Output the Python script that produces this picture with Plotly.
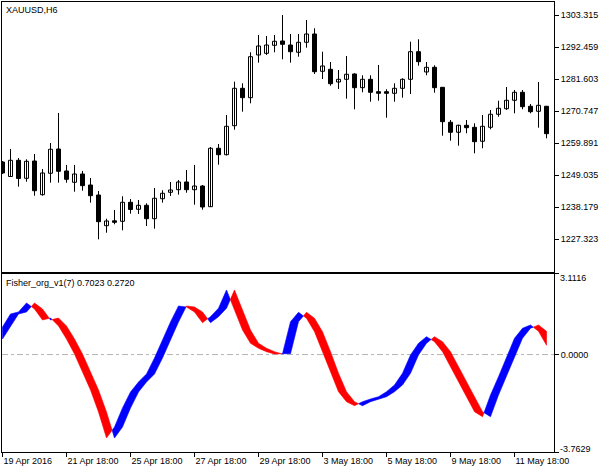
import plotly.graph_objects as go

# ---------------- data ----------------
symbol_title = "XAUUSD,H6"
indicator_title = "Fisher_org_v1(7) 0.7023 0.2720"

open_ = [1253.51, 1248.60, 1254.09, 1247.99, 1253.85, 1242.44, 1249.69, 1257.92, 1250.47, 1246.64,
         1249.45, 1245.72, 1242.33, 1231.93, 1233.59, 1233.42, 1239.86, 1237.49, 1238.84, 1234.30,
         1241.08, 1243.25, 1244.13, 1246.74, 1244.13, 1245.38, 1238.37, 1258.16, 1255.99, 1265.81,
         1278.48, 1275.30, 1289.77, 1290.34, 1293.05, 1294.51, 1293.15, 1290.68, 1294.07, 1296.88,
         1284.24, 1284.92, 1280.62, 1281.53, 1283.33, 1278.69, 1281.53, 1277.33, 1277.33, 1276.79,
         1278.48, 1281.53, 1290.88, 1284.01, 1285.60, 1278.82, 1266.97, 1263.58, 1265.95, 1265.27,
         1260.53, 1265.27, 1269.68, 1271.57, 1274.42, 1277.13, 1272.39, 1270.69, 1272.39]
close = [1249.79, 1254.09, 1247.92, 1253.75, 1243.79, 1249.79, 1257.82, 1250.36, 1247.65, 1249.45,
         1245.49, 1242.10, 1233.29, 1233.53, 1233.08, 1239.86, 1237.42, 1238.84, 1234.30, 1241.22,
         1242.91, 1244.03, 1246.74, 1244.13, 1245.38, 1238.27, 1258.16, 1255.99, 1265.61, 1278.48,
         1275.30, 1289.19, 1292.82, 1293.15, 1294.41, 1293.39, 1290.88, 1294.07, 1296.88, 1284.11,
         1286.04, 1280.04, 1281.53, 1283.23, 1278.69, 1281.53, 1277.13, 1276.79, 1276.79, 1278.48,
         1281.53, 1290.88, 1287.50, 1285.60, 1278.69, 1267.17, 1263.58, 1265.95, 1265.14, 1260.39,
         1265.61, 1269.68, 1271.71, 1274.42, 1277.13, 1272.25, 1270.56, 1272.72, 1263.10]
high = [1253.85, 1257.92, 1254.87, 1254.43, 1256.22, 1251.14, 1259.95, 1270.12, 1252.50, 1252.50,
        1250.47, 1248.09, 1243.69, 1234.30, 1237.25, 1241.89, 1240.98, 1240.64, 1239.52, 1244.71,
        1243.93, 1246.74, 1247.42, 1250.80, 1252.50, 1245.72, 1258.60, 1259.61, 1269.44, 1280.72,
        1280.18, 1290.68, 1296.54, 1296.20, 1296.54, 1303.32, 1296.88, 1296.88, 1301.62, 1298.81,
        1290.88, 1287.39, 1284.68, 1289.43, 1283.57, 1282.89, 1282.89, 1286.38, 1278.15, 1280.18,
        1281.87, 1294.27, 1295.09, 1287.39, 1286.28, 1278.92, 1267.74, 1266.15, 1267.74, 1266.63,
        1269.44, 1271.13, 1274.28, 1278.92, 1277.91, 1277.91, 1273.16, 1280.62, 1272.49]
low = [1249.45, 1248.43, 1245.15, 1246.84, 1242.10, 1242.10, 1246.50, 1246.50, 1246.50, 1243.45,
       1243.79, 1239.73, 1227.32, 1229.56, 1232.41, 1230.37, 1236.00, 1235.90, 1231.83, 1230.92,
       1239.73, 1242.00, 1242.44, 1243.11, 1239.05, 1237.35, 1238.27, 1252.60, 1255.72, 1264.46,
       1270.56, 1273.40, 1287.16, 1289.77, 1290.68, 1288.31, 1287.16, 1289.19, 1292.24, 1283.33,
       1281.63, 1279.36, 1278.25, 1274.96, 1271.37, 1277.13, 1273.94, 1274.28, 1268.52, 1273.94,
       1275.30, 1276.55, 1286.14, 1282.89, 1276.99, 1262.42, 1260.73, 1259.04, 1263.24, 1256.46,
       1258.16, 1264.59, 1268.86, 1271.13, 1270.01, 1271.37, 1270.01, 1265.14, 1261.54]

fisher_prev = 0.601
fisher = [1.065, 1.567, 1.644, 1.992, 1.760, 1.335, 1.412, 1.103, 0.601, 0.022,
          -0.673, -1.368, -2.218, -3.222, -2.797, -2.063, -1.446, -1.059, -0.750, -0.132,
          0.563, 1.258, 1.876, 1.837, 1.644, 1.231, 1.463, 1.787, 2.494, 1.721,
          0.949, 0.435, 0.242, 0.111, 0.022, 0.034, 1.269, 1.632, 1.401, 0.883,
          0.111, -0.723, -1.434, -1.820, -1.975, -1.820, -1.716, -1.627, -1.434, -1.175,
          -0.723, -0.017, 0.435, 0.690, 0.497, 0.111, -0.442, -1.048, -1.627, -2.207,
          -2.399, -1.562, -0.855, -0.082, 0.628, 1.015, 1.142, 0.900, 0.360]

price_ticks = [1303.315, 1292.459, 1281.603, 1270.747, 1259.891, 1249.035, 1238.179, 1227.323]
ind_max, ind_min = 3.1116, -3.7629
date_tick_bars = [0, 8, 16, 24, 32, 40, 48, 56, 64]
date_tick_labels = ["19 Apr 2016", "21 Apr 18:00", "25 Apr 18:00", "27 Apr 18:00", "29 Apr 18:00",
                    "3 May 18:00", "5 May 18:00", "9 May 18:00", "11 May 18:00"]

# ---------------- figure ----------------
FONT = "Liberation Sans"
n = len(open_)
bars = list(range(n))
trigger = [fisher_prev] + fisher[:-1]

fig = go.Figure()

# wicks
wx, wy = [], []
for i in bars:
    wx += [i, i, None]
    wy += [low[i], high[i], None]
fig.add_trace(go.Scatter(x=wx, y=wy, mode="lines", line=dict(color="black", width=1),
                         hoverinfo="skip", showlegend=False, xaxis="x", yaxis="y"))

# bodies
base = [min(o, c) for o, c in zip(open_, close)]
height = [max(abs(c - o), 0.35) for o, c in zip(open_, close)]
colors = ["white" if c >= o else "black" for o, c in zip(open_, close)]
fig.add_trace(go.Bar(x=bars, y=height, base=base, width=0.5,
                     marker=dict(color=colors, line=dict(color="black", width=1)),
                     hoverinfo="skip", showlegend=False, xaxis="x", yaxis="y"))

# Fisher filling between fisher and trigger, colored by sign
runs = []  # (sign, top_pts, bot_pts)
d = [f - t for f, t in zip(fisher, trigger)]
cur_sign = 1 if d[0] >= 0 else -1
top = [(0, fisher[0])]
bot = [(0, trigger[0])]
for i in range(n - 1):
    s_next = 1 if d[i + 1] > 0 else (-1 if d[i + 1] < 0 else cur_sign)
    if s_next != cur_sign:
        t = d[i] / (d[i] - d[i + 1])
        xc = i + t
        yc = fisher[i] + t * (fisher[i + 1] - fisher[i])
        top.append((xc, yc)); bot.append((xc, yc))
        runs.append((cur_sign, top, bot))
        top = [(xc, yc)]; bot = [(xc, yc)]
        cur_sign = s_next
    top.append((i + 1, fisher[i + 1]))
    bot.append((i + 1, trigger[i + 1]))
runs.append((cur_sign, top, bot))

for sign, col in [(1, "#0000FF"), (-1, "#FF0000")]:
    px, py = [], []
    for s, tp, bt in runs:
        if s != sign:
            continue
        pts = tp + bt[::-1]
        px += [p[0] for p in pts] + [pts[0][0], None]
        py += [p[1] for p in pts] + [pts[0][1], None]
    fig.add_trace(go.Scatter(x=px, y=py, mode="lines", fill="toself", fillcolor=col,
                             line=dict(color=col, width=0.6), hoverinfo="skip",
                             showlegend=False, xaxis="x2", yaxis="y2"))

x_range = [-0.0625, 68.9375]
axis_common = dict(showgrid=False, zeroline=False, showline=True, mirror=True,
                   linecolor="black", linewidth=1)

fig.update_layout(
    width=611, height=474,
    margin=dict(l=2, r=57, t=2, b=22),
    paper_bgcolor="white", plot_bgcolor="white",
    font=dict(family=FONT, size=9, color="black"),
    barmode="overlay",
    showlegend=False,
    xaxis=dict(domain=[0, 1], range=x_range, anchor="y", showticklabels=False, ticks="",
               **axis_common),
    yaxis=dict(domain=[0.4011, 1], range=[1216.41, 1307.72], side="right", anchor="x",
               tickvals=price_ticks, ticktext=[f"{v:.3f}" for v in price_ticks],
               ticks="outside", ticklen=4, tickcolor="black", tickfont=dict(size=9),
               **axis_common),
    xaxis2=dict(domain=[0, 1], range=x_range, anchor="y2",
                tickvals=date_tick_bars, ticktext=date_tick_labels,
                ticks="outside", ticklen=4, tickcolor="black",
                ticklabelposition="outside right", tickfont=dict(size=9),
                **axis_common),
    yaxis2=dict(domain=[0, 0.3956], range=[ind_min, ind_max], side="right", anchor="x2",
                tickvals=[ind_max, 0, ind_min], ticktext=["", "0.0000", ""],
                ticks="outside", ticklen=4, tickcolor="black", tickfont=dict(size=9),
                **axis_common),
)

# zero level
fig.add_shape(type="line", xref="x2 domain", x0=0, x1=1, yref="y2", y0=0, y1=0,
              line=dict(color="#B4B4B4", width=1, dash="6px,3px,3px,3px"), layer="below")

# texts
fig.add_annotation(text=symbol_title, xref="x domain", yref="y domain", x=0, y=1,
                   xanchor="left", yanchor="top", xshift=2, yshift=-1, showarrow=False,
                   font=dict(family=FONT, size=9, color="black"))
fig.add_annotation(text=indicator_title, xref="x2 domain", yref="y2 domain", x=0, y=1,
                   xanchor="left", yanchor="top", xshift=2, yshift=-2, showarrow=False,
                   font=dict(family=FONT, size=9, color="black"))
fig.add_annotation(text=f"{ind_max:.4f}", xref="x2 domain", yref="y2", x=1, y=ind_max,
                   xanchor="left", yanchor="middle", xshift=4, yshift=-4, showarrow=False,
                   font=dict(family=FONT, size=9, color="black"))
fig.add_annotation(text=f"{ind_min:.4f}", xref="x2 domain", yref="y2", x=1, y=ind_min,
                   xanchor="left", yanchor="middle", xshift=4, yshift=3, showarrow=False,
                   font=dict(family=FONT, size=9, color="black"))

fig.write_html("out.html", config={"displayModeBar": False},
               post_script="document.body.style.margin='0';")
